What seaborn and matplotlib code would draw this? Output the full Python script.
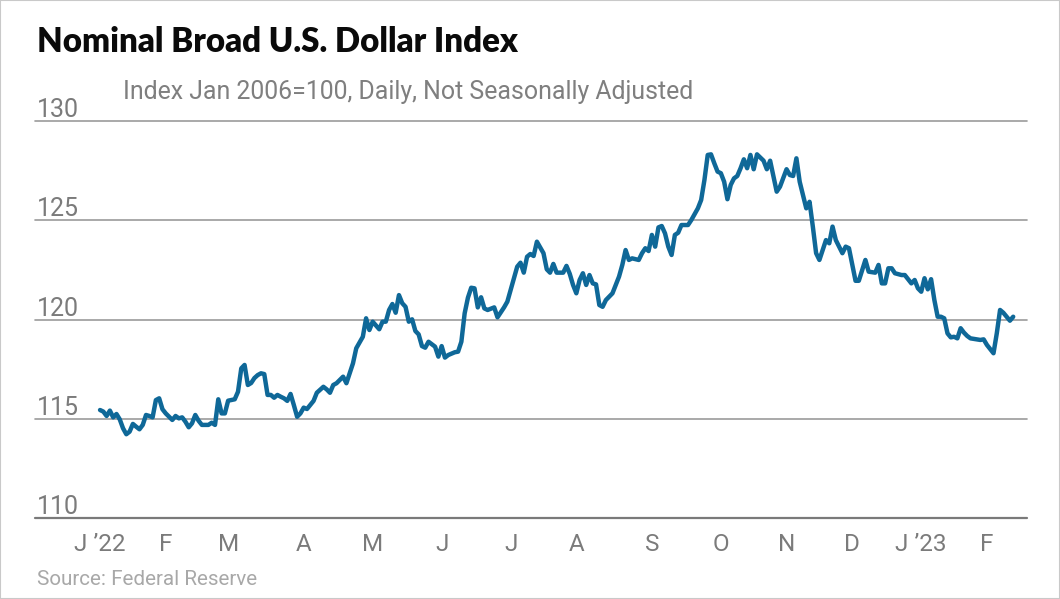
import numpy as np
import pandas as pd
import matplotlib
matplotlib.use("Agg")
import matplotlib.pyplot as plt
import matplotlib.transforms as mtransforms
from matplotlib.patches import Rectangle
import seaborn as sns

# ---------------- data ----------------
title = "Nominal Broad U.S. Dollar Index"
subtitle = "Index Jan 2006=100, Daily, Not Seasonally Adjusted"
source = "Source: Federal Reserve"

# Fed H.10 business-day calendar (holidays excluded)
holidays = ["2022-01-17", "2022-02-21", "2022-05-30", "2022-06-20", "2022-07-04",
            "2022-09-05", "2022-10-10", "2022-11-11", "2022-11-24", "2022-12-26",
            "2023-01-02", "2023-01-16", "2023-02-20"]

# trading-day number since 2022-01-03 and index value
trading_day = [0, 1, 2, 3, 4, 5, 6, 7, 8, 9, 10, 11, 12, 13, 14, 15, 16, 17, 18, 19,
               20, 22, 23, 24, 25, 26, 27, 28, 29, 30, 31, 33, 34, 35, 36, 37, 38, 39, 41, 42,
               43, 44, 45, 46, 47, 48, 49, 50, 51, 52, 53, 54, 55, 56, 57, 58, 59, 60, 61, 62,
               63, 65, 66, 68, 69, 70, 71, 72, 74, 75, 76, 77, 78, 80, 81, 82, 83, 85, 86, 87,
               88, 89, 90, 91, 92, 93, 94, 95, 96, 97, 98, 99, 100, 102, 103, 104, 105, 106, 108, 109,
               110, 111, 112, 113, 114, 115, 116, 117, 118, 120, 121, 123, 124, 125, 127, 128, 129, 130, 131, 132,
               133, 135, 136, 137, 138, 139, 141, 142, 143, 144, 145, 146, 147, 148, 149, 150, 151, 152, 153, 154,
               156, 157, 158, 159, 160, 161, 162, 164, 165, 166, 167, 168, 169, 170, 171, 172, 173, 174, 175, 176,
               177, 179, 180, 182, 183, 184, 185, 186, 187, 188, 189, 190, 191, 192, 193, 194, 195, 196, 197, 198,
               199, 200, 202, 203, 204, 206, 207, 209, 210, 211, 212, 213, 215, 216, 217, 218, 219, 220, 221, 222,
               223, 224, 226, 227, 228, 230, 231, 233, 234, 236, 237, 238, 239, 240, 241, 242, 244, 245, 246, 247,
               248, 249, 250, 251, 252, 253, 254, 255, 256, 257, 258, 259, 260, 261, 262, 263, 264, 265, 267, 268,
               269, 270, 272, 273, 274, 275, 276, 277, 278]

index_value = [115.44, 115.36, 115.14, 115.41, 115.07, 115.24, 114.97, 114.52, 114.22, 114.35,
               114.74, 114.60, 114.47, 114.69, 115.19, 115.14, 115.07, 115.94, 116.03, 115.48,
               115.27, 114.94, 115.14, 115.02, 115.07, 114.85, 114.57, 114.77, 115.19, 114.90,
               114.69, 114.69, 114.80, 114.69, 115.98, 115.27, 115.27, 115.91, 115.98, 116.36,
               117.54, 117.71, 116.70, 116.80, 117.05, 117.20, 117.29, 117.25, 116.20, 116.20,
               116.06, 116.20, 116.11, 116.03, 115.90, 116.25, 115.69, 115.10, 115.27, 115.56,
               115.49, 115.90, 116.31, 116.61, 116.48, 116.31, 116.70, 116.79, 117.12, 116.79,
               117.29, 117.79, 118.55, 119.13, 120.06, 119.47, 119.89, 119.51, 119.89, 119.89,
               120.48, 120.78, 120.34, 121.23, 120.82, 120.64, 119.89, 120.01, 119.42, 119.25,
               118.66, 118.58, 118.88, 118.63, 118.13, 118.66, 118.08, 118.21, 118.35, 118.38,
               118.88, 120.31, 121.10, 121.60, 121.57, 120.61, 121.12, 120.56, 120.48, 120.61,
               120.11, 120.61, 120.90, 121.49, 122.66, 122.86, 122.36, 123.16, 123.30, 123.20,
               123.92, 123.34, 122.53, 122.36, 122.80, 122.36, 122.36, 122.70, 122.30, 121.74,
               121.32, 121.99, 122.33, 121.74, 122.24, 121.82, 121.77, 120.73, 120.64, 120.98,
               121.32, 121.74, 122.16, 122.75, 123.50, 123.00, 123.08, 123.00, 123.34, 123.59,
               123.45, 124.26, 123.67, 124.64, 124.71, 124.34, 123.67, 123.25, 124.26, 124.37,
               124.76, 124.76, 125.01, 125.60, 126.02, 127.03, 128.29, 128.32, 127.87, 127.45,
               127.37, 126.94, 126.06, 126.78, 127.11, 127.23, 127.62, 128.07, 127.62, 128.29,
               127.57, 128.32, 128.00, 127.57, 128.00, 126.44, 126.69, 127.57, 127.28, 127.23,
               128.12, 126.94, 125.60, 125.93, 124.68, 123.34, 123.00, 123.50, 124.00, 123.84,
               124.68, 124.00, 123.34, 123.67, 123.59, 121.95, 121.95, 123.00, 122.41, 122.36,
               122.75, 121.82, 121.82, 122.58, 122.58, 122.33, 122.24, 122.24, 122.03, 121.82,
               121.99, 121.57, 121.40, 122.08, 121.52, 122.03, 120.98, 120.14, 120.14, 120.06,
               119.30, 119.10, 119.13, 119.05, 119.56, 119.34, 119.17, 119.05, 119.00, 118.97,
               119.00, 118.72, 118.30, 119.30, 120.48, 120.34, 120.14, 119.94, 120.14]

month_labels = ["J \u201922", "F", "M", "A", "M", "J", "J", "A", "S", "O", "N", "D", "J \u201923", "F"]
y_ticks = [110, 115, 120, 125, 130]

# ---------------- calendar ----------------
bdays = pd.bdate_range("2022-01-03", "2023-02-28", freq="C", holidays=holidays)
df = pd.DataFrame({"day": trading_day, "value": index_value})
df["date"] = bdays[df["day"]]
cal = pd.Series(np.arange(len(bdays)), index=bdays)
month_starts = cal.groupby([cal.index.year, cal.index.month]).min().values[:len(month_labels)]

# ---------------- figure ----------------
W, H = 1060, 599
sns.set_theme(style="white")
plt.rcParams["font.family"] = ["Roboto", "DejaVu Sans"]
fig = plt.figure(figsize=(W / 100, H / 100), dpi=100)
fig.patch.set_facecolor("white")

ax_left, ax_right, ax_top, ax_bot = 35, 1027, 121, 518
ax = fig.add_axes([ax_left / W, 1 - ax_bot / H, (ax_right - ax_left) / W, (ax_bot - ax_top) / H])
ax.set_facecolor("none")

grid_col = "#9b9b9b"
for v in y_ticks:
    if v == y_ticks[0]:
        ax.axhline(v, color="#7a7a7a", lw=1.6, clip_on=False, zorder=1)
    else:
        ax.axhline(v, color=grid_col, lw=1.2, clip_on=False, zorder=1)

sns.lineplot(data=df, x="day", y="value", ax=ax, color="#0f6898", lw=3.2,
             solid_joinstyle="round", solid_capstyle="round", zorder=3)

ax.set_xlim(-19.8, 282.2)
ax.set_ylim(110, 130)
for s in ax.spines.values():
    s.set_visible(False)
ax.set_xlabel("")
ax.set_ylabel("")
ax.set_yticks([])
ax.set_xticks(month_starts)
ax.set_xticklabels(month_labels)
ax.tick_params(axis="x", length=0, pad=11, labelsize=17.5, colors="#7b7b7b")

# y labels sit above their grid lines, left aligned
trans = mtransforms.blended_transform_factory(ax.transAxes, ax.transData)
off = mtransforms.ScaledTranslation(2 / 100, 4 / 100, fig.dpi_scale_trans)
for v in y_ticks:
    ax.text(0, v, str(v), transform=trans + off, ha="left", va="baseline",
            fontsize=18, color="#7b7b7b")

fig.text(37 / W, 1 - 52 / H, title, fontsize=23.8, fontweight="heavy",
         family=["Lato", "DejaVu Sans"], color="#0a0a0a", ha="left", va="baseline")
fig.text(123 / W, 1 - 99 / H, subtitle, fontsize=17.9, color="#7f7f7f",
         ha="left", va="baseline")
fig.text(37 / W, 1 - 585 / H, source, fontsize=14.9, color="#a8a8a8",
         ha="left", va="baseline")

fig.patches.append(Rectangle((0, 0), 1, 1, transform=fig.transFigure, fill=False,
                             edgecolor="#c9c9c9", lw=1.5, zorder=10))

fig.savefig("out.png", dpi=100)
